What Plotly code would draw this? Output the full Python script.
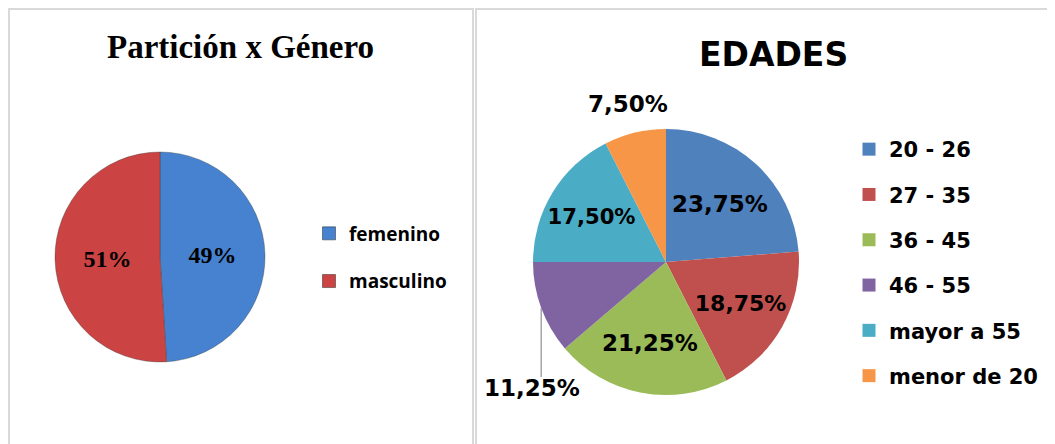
import math
import plotly.graph_objects as go

# ---- data ----
genero_labels = ["femenino", "masculino"]
genero_values = [49, 51]
genero_colors = ["#4682cf", "#cc4343"]

edad_labels = ["20 - 26", "27 - 35", "36 - 45", "46 - 55", "mayor a 55", "menor de 20"]
edad_values = [23.75, 18.75, 21.25, 11.25, 17.50, 7.50]
edad_colors = ["#4f81bd", "#c0504d", "#9bbb59", "#8064a2", "#4bacc6", "#f79646"]
edad_textpos = ["inside", "inside", "inside", "none", "inside", "none"]

# page body has an 8px margin: figure is drawn offset by it
OFF = 8
FW, FH = 1055 - OFF, 444 - OFF


def px_x(v):
    return (v - OFF) / FW


def px_y(v):
    return 1 - (v - OFF) / FH


# pie placement (page pixels)
L_X0, L_X1, L_Y0, L_Y1 = 55, 265, 152, 362
R_X0, R_X1, R_Y0, R_Y1 = 533, 799, 129, 395

fig = go.Figure()

# Left pie: Partición x Género
fig.add_trace(go.Pie(
    labels=genero_labels,
    values=genero_values,
    sort=False,
    direction="clockwise",
    rotation=0,
    marker=dict(colors=genero_colors, line=dict(color="rgba(60,60,60,0.45)", width=0.8)),
    texttemplate="%{percent:.0%}",
    textposition="inside",
    insidetextorientation="horizontal",
    textfont=dict(family="Liberation Serif", size=24, color="black", weight="bold"),
    domain=dict(x=[px_x(L_X0), px_x(L_X1)], y=[px_y(L_Y1), px_y(L_Y0)]),
    showlegend=False,
    hoverinfo="label+percent",
))

# Right pie: EDADES
fig.add_trace(go.Pie(
    labels=edad_labels,
    values=edad_values,
    sort=False,
    direction="clockwise",
    rotation=0,
    marker=dict(colors=edad_colors, line=dict(color="white", width=0)),
    texttemplate="%{percent:.2%}",
    textposition=edad_textpos,
    insidetextorientation="horizontal",
    textfont=dict(family="DejaVu Sans", size=23, color="black", weight="bold"),
    domain=dict(x=[px_x(R_X0), px_x(R_X1)], y=[px_y(R_Y1), px_y(R_Y0)]),
    showlegend=False,
    hoverinfo="label+percent",
))

# Legend entries (dummy marker traces so the item spacing can match)
for i, (lab, col) in enumerate(zip(genero_labels, genero_colors)):
    fig.add_trace(go.Scatter(
        x=[None], y=[None], mode="markers", name=lab,
        marker=dict(symbol="square", size=13, color=col,
                    line=dict(color="rgba(40,40,40,0.5)", width=1)),
        legend="legend", legendgroup="g%d" % i, showlegend=True,
        hoverinfo="skip",
    ))
for i, (lab, col) in enumerate(zip(edad_labels, edad_colors)):
    fig.add_trace(go.Scatter(
        x=[None], y=[None], mode="markers", name=lab,
        marker=dict(symbol="square", size=13, color=col),
        legend="legend2", legendgroup="e%d" % i, showlegend=True,
        hoverinfo="skip",
    ))

# Outside labels for the right pie (positioned from each slice's mid-angle)
total = sum(edad_values)
cx, cy = (R_X0 + R_X1) / 2, (R_Y0 + R_Y1) / 2
r = (R_X1 - R_X0) / 2
mids = []
cum = 0.0
for v in edad_values:
    mids.append(math.radians((cum + v / 2) / total * 360))
    cum += v


def pct_text(v):
    return ("%.2f" % (v / total * 100)).replace(".", ",") + "%"


lab_font = dict(family="DejaVu Sans", size=23, color="black", weight="bold")
annotations = [
    dict(text="Partición x Género", x=px_x(240), y=px_y(47), xref="paper", yref="paper",
         showarrow=False, xanchor="center", yanchor="middle",
         font=dict(family="Liberation Serif", size=33, color="black", weight="bold")),
    dict(text="EDADES", x=px_x(773), y=px_y(55), xref="paper", yref="paper",
         showarrow=False, xanchor="center", yanchor="middle",
         font=dict(family="DejaVu Sans", size=33, color="black", weight="bold")),
]
shapes = []

# "menor de 20" label, above its slice
i = 5
ax_ = cx + 1.22 * r * math.sin(mids[i])
ay_ = cy - 1.22 * r * math.cos(mids[i])
annotations.append(dict(text=pct_text(edad_values[i]), x=px_x(ax_), y=px_y(ay_),
                        xref="paper", yref="paper", showarrow=False,
                        xanchor="center", yanchor="middle", font=lab_font))

# "46 - 55" label with a leader line
i = 3
ex = cx + r * math.sin(mids[i])
ey = cy - r * math.cos(mids[i])
line_end = cy + 0.865 * r
shapes.append(dict(type="line", xref="paper", yref="paper",
                   x0=px_x(ex), x1=px_x(ex), y0=px_y(ey), y1=px_y(line_end),
                   line=dict(color="#a6a6a6", width=1.5)))
annotations.append(dict(text=pct_text(edad_values[i]), x=px_x(ex - 9), y=px_y(cy + 0.95 * r),
                        xref="paper", yref="paper", showarrow=False,
                        xanchor="center", yanchor="middle", font=lab_font))

border = "#d9d9d9"
shapes += [
    dict(type="rect", xref="paper", yref="paper",
         x0=px_x(9), x1=px_x(473), y0=px_y(470), y1=px_y(9),
         line=dict(color=border, width=2), fillcolor="rgba(0,0,0,0)", layer="below"),
    dict(type="rect", xref="paper", yref="paper",
         x0=px_x(476), x1=px_x(1080), y0=px_y(470), y1=px_y(9),
         line=dict(color=border, width=2), fillcolor="rgba(0,0,0,0)", layer="below"),
]

fig.update_layout(
    width=FW, height=FH,
    margin=dict(l=0, r=0, t=0, b=0),
    paper_bgcolor="white",
    plot_bgcolor="white",
    separators=",.",
    xaxis=dict(visible=False, domain=[0.0, 0.01]),
    yaxis=dict(visible=False, domain=[0.0, 0.01]),
    legend=dict(
        x=px_x(309), y=px_y(257.5), xanchor="left", yanchor="middle",
        font=dict(family="Open Sans", size=19, color="black", weight="bold"),
        tracegroupgap=20, bgcolor="rgba(0,0,0,0)",
    ),
    legend2=dict(
        x=px_x(849), y=px_y(262.5), xanchor="left", yanchor="middle",
        font=dict(family="DejaVu Sans", size=21, color="black", weight="bold"),
        tracegroupgap=15, bgcolor="rgba(0,0,0,0)",
    ),
    annotations=annotations,
    shapes=shapes,
)

fig.write_html("out.html")
